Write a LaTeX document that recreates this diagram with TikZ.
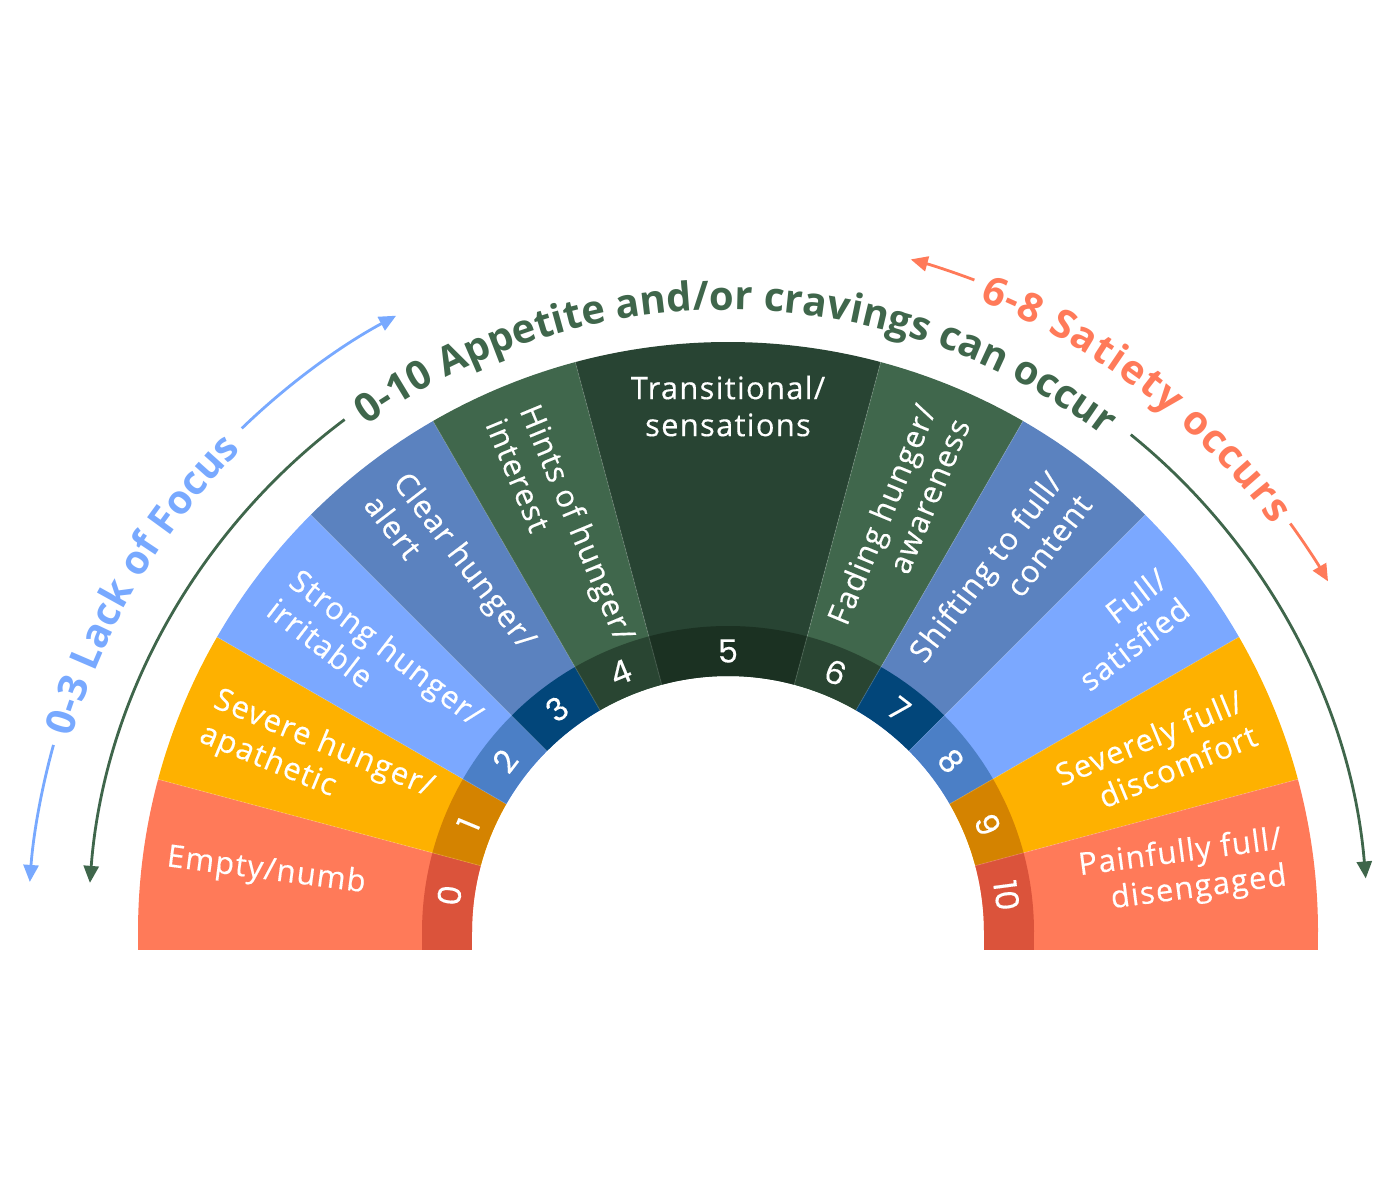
\documentclass[tikz,border=0pt]{standalone}
\usepackage{fontspec}
\setmainfont{Open Sans}
\newfontfamily\lblfont[LetterSpace=4,FakeBold=0.35]{Open Sans}
\newfontfamily\numfont[FakeBold=0.3]{Poppins}
\newfontfamily\ttlfont{Open Sans}
\usetikzlibrary{arrows.meta,decorations.text}
\definecolor{csalmon}{HTML}{FF7A59}
\definecolor{csalmonD}{HTML}{DB533B}
\definecolor{camber}{HTML}{FEB100}
\definecolor{camberD}{HTML}{D48300}
\definecolor{clblue}{HTML}{7BA8FF}
\definecolor{clblueD}{HTML}{4B7FC6}
\definecolor{cmblue}{HTML}{5B82BF}
\definecolor{cmblueD}{HTML}{02467A}
\definecolor{cgreen}{HTML}{40674C}
\definecolor{cgreenD}{HTML}{294532}
\definecolor{cdgreen}{HTML}{284433}
\definecolor{cdgreenD}{HTML}{1B3122}
\definecolor{ctitle}{HTML}{3F664B}
\definecolor{cfocus}{HTML}{78A9FF}
\newcommand\arcfmt{\ttlfont\bfseries\fontsize{40}{40}\selectfont}
\begin{document}
\begin{tikzpicture}[x=1pt,y=1pt,
  lbl/.style={text=white,font=\lblfont\fontsize{31}{37}\selectfont,inner sep=0pt},
  numlbl/.style={text=white,font=\numfont\fontsize{32}{32}\selectfont,inner sep=0pt},
  arcline/.style={line width=2.8pt},
  tip/.style={-{Triangle[length=17pt,width=15pt]}}
]
\useasboundingbox (0,0) rectangle (1400,1200);
\coordinate (O) at (728,268);
% bottom extensions
\fill[csalmon] (138,250) rectangle (422,268);
\fill[csalmonD] (422,250) rectangle (472,268);
\fill[csalmonD] (984,250) rectangle (1034,268);
\fill[csalmon] (1034,250) rectangle (1318,268);
\begin{scope}[shift={(O)}]
 \foreach \a/\b/\c/\d/\n in {165/180/csalmon/csalmonD/0,150/165/camber/camberD/1,135/150/clblue/clblueD/2,120/135/cmblue/cmblueD/3,105/120/cgreen/cgreenD/4,75/105/cdgreen/cdgreenD/5,60/75/cgreen/cgreenD/6,45/60/cmblue/cmblueD/7,30/45/clblue/clblueD/8,15/30/camber/camberD/9,0/15/csalmon/csalmonD/10}{
   \fill[\c] (\a:256) arc[start angle=\a,end angle=\b,radius=256] -- (\b:590) arc[start angle=\b,end angle=\a,radius=590] -- cycle;
   \fill[\d] (\a:256) arc[start angle=\a,end angle=\b,radius=256] -- (\b:306) arc[start angle=\b,end angle=\a,radius=306] -- cycle;
   \node[numlbl,rotate={(\a+\b)/2-90}] (n\n) at ({(\a+\b)/2}:281) {\n};
 }
 \foreach \a in {15,30,45,60,75,105,120,135,150,165}{
   \draw[white,opacity=0.12,line width=1pt] (\a:256) -- (\a:590);
 }
 % left labels
 \node[lbl,anchor=west,align=left,rotate=-7.5] (l0) at (172.5:566) {Empty/numb};
 \node[lbl,anchor=west,align=left,rotate=-22.5] (l1) at (157.5:563) {Severe hunger/\\apathetic};
 \node[lbl,anchor=west,align=left,rotate=-37.5] (l2) at (142.5:561) {Strong hunger/\\irritable};
 \node[lbl,anchor=west,align=left,rotate=-52.5] (l3) at (127.5:561) {Clear hunger/\\alert};
 \node[lbl,anchor=west,align=left,rotate=-67.5] (l4) at (112.5:562) {Hints of hunger/\\interest};
 \node[lbl,align=center] (l5) at (90:526) {Transitional/\\sensations};
 \node[lbl,anchor=east,align=right,rotate=67.5] (l6) at (67.5:562) {Fading hunger/\\awareness};
 \node[lbl,anchor=east,align=right,rotate=52.5] (l7) at (52.5:561) {Shifting to full/\\content};
 \node[lbl,anchor=east,align=right,rotate=37.5] (l8) at (37.5:562) {Full/\\satisfied};
 \node[lbl,anchor=east,align=right,rotate=22.5] (l9) at (22.5:563) {Severely full/\\discomfort};
 \node[lbl,anchor=east,align=right,rotate=7.5] (l10) at (7.5:561) {Painfully full/\\disengaged};
 % arcs with arrows
 \draw[arcline,cfocus,tip] (164.5:700) arc[start angle=164.5,end angle=175.9,radius=700];
 \draw[arcline,cfocus,tip] (134:700) arc[start angle=134,end angle=118.3,radius=700];
 \draw[arcline,ctitle,tip] (126.8:640) arc[start angle=126.8,end angle=175.6,radius=640];
 \draw[arcline,ctitle,tip] (51:640) arc[start angle=51,end angle=4.8,radius=640];
 \draw[arcline,csalmon,tip] (69.3:697) arc[start angle=69.3,end angle=74.8,radius=697];
 \draw[arcline,csalmon,tip] (36:695) arc[start angle=36,end angle=30.3,radius=695];
 % arc texts
 \path[decorate,decoration={text along path,text color=ctitle,text align={fit to path},
   text={|\arcfmt|0-10 Appetite and/or cravings can occur}}]
   (125.5:622) arc[start angle=125.5,end angle=53,radius=622];
 \path[decorate,decoration={text along path,text color=cfocus,text align={fit to path},
   text={|\arcfmt|0-3 Lack of Focus}}]
   (163.5:685) arc[start angle=163.5,end angle=135.3,radius=685];
 \path[decorate,decoration={text along path,text color=csalmon,text align={fit to path},
   text={|\arcfmt|6-8 Satiety occurs}}]
   (68.3:680) arc[start angle=68.3,end angle=36.8,radius=680];
\end{scope}
\end{tikzpicture}
\end{document}
